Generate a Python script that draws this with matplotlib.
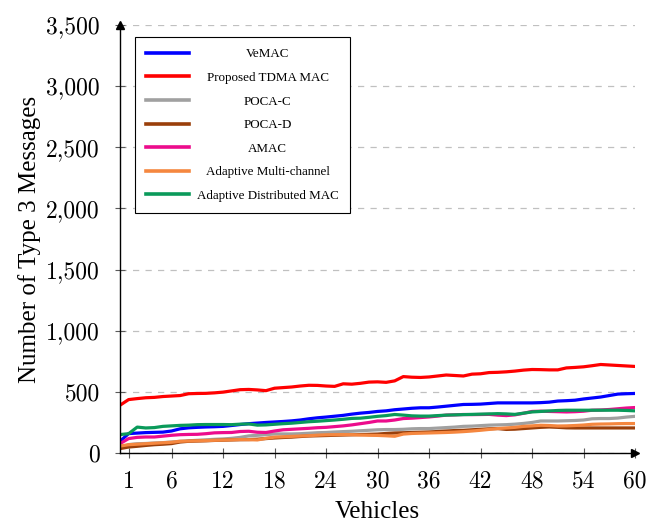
import matplotlib
matplotlib.use("Agg")
import matplotlib.pyplot as plt
from matplotlib.ticker import FuncFormatter
from matplotlib.transforms import Affine2D

# number of vehicles (0..60)
vehicles = list(range(0, 61))

vemac = [96, 159, 163, 167, 169, 171, 180, 198, 206, 210, 213, 215, 218, 225, 233, 240,
         245, 250, 254, 258, 263, 270, 280, 288, 294, 301, 308, 318, 326, 332, 340, 345,
         354, 360, 366, 370, 370, 376, 383, 390, 397, 398, 400, 405, 410, 410, 410, 410,
         410, 412, 416, 425, 428, 432, 442, 450, 458, 470, 482, 485, 487]
proposed = [391, 437, 445, 452, 455, 462, 466, 470, 485, 487, 488, 492, 498, 508, 518, 520,
            516, 510, 530, 535, 540, 548, 554, 553, 548, 545, 566, 563, 570, 580, 582, 578,
            590, 625, 620, 618, 622, 630, 638, 634, 630, 645, 648, 658, 660, 664, 670, 678,
            683, 682, 680, 680, 696, 700, 705, 714, 724, 720, 716, 712, 708]
poca_c = [41, 69, 76, 78, 82, 85, 90, 96, 100, 104, 108, 112, 115, 120, 128, 140,
          145, 150, 156, 156, 156, 158, 162, 166, 168, 172, 175, 178, 182, 186, 190, 192,
          192, 194, 198, 200, 200, 204, 208, 212, 218, 220, 224, 228, 230, 232, 236, 242,
          250, 262, 262, 262, 264, 266, 270, 280, 282, 282, 286, 294, 300]
poca_d = [36, 49, 55, 62, 68, 72, 77, 90, 96, 98, 100, 103, 105, 107, 109, 110,
          113, 118, 123, 127, 130, 135, 139, 141, 143, 145, 147, 149, 151, 153, 155, 160,
          164, 166, 168, 170, 172, 176, 180, 184, 186, 190, 194, 198, 200, 193, 195, 200,
          205, 210, 213, 210, 206, 205, 205, 205, 205, 205, 205, 205, 205]
amac = [77, 118, 128, 131, 131, 138, 145, 150, 152, 153, 158, 165, 167, 168, 176, 178,
        170, 168, 180, 190, 194, 198, 202, 207, 210, 216, 222, 230, 240, 250, 262, 262,
        270, 282, 285, 290, 295, 302, 310, 312, 315, 314, 315, 316, 310, 306, 312, 325,
        340, 342, 340, 338, 336, 338, 342, 350, 352, 356, 362, 368, 372]
adaptive_mc = [57, 68, 72, 76, 80, 84, 88, 96, 98, 100, 102, 104, 106, 108, 110, 109,
               107, 120, 130, 133, 136, 139, 142, 146, 149, 150, 151, 150, 147, 145, 144, 141,
               137, 155, 160, 162, 164, 166, 168, 171, 175, 180, 186, 193, 200, 205, 210, 218,
               222, 227, 225, 221, 222, 225, 229, 235, 237, 238, 240, 241, 241]
adaptive_dist = [151, 158, 212, 205, 208, 218, 222, 226, 228, 232, 233, 233, 233, 232, 236, 238,
                 228, 230, 235, 240, 244, 250, 256, 260, 265, 270, 276, 283, 285, 292, 300, 306,
                 315, 310, 304, 302, 302, 306, 310, 312, 314, 316, 318, 320, 322, 320, 316, 326,
                 336, 340, 344, 348, 350, 350, 350, 350, 350, 350, 350, 348, 345]

labels = ['VeMAC', 'Proposed TDMA MAC', 'POCA-C', 'POCA-D', 'AMAC',
          'Adaptive Multi-channel', 'Adaptive Distributed MAC']
colors = ['#0000ff', '#ff0000', '#a0a0a0', '#9a3f0a', '#ec0c8c', '#f5873f', '#0a9a5a']
series = [vemac, proposed, poca_c, poca_d, amac, adaptive_mc, adaptive_dist]

xticks = [1, 6, 12, 18, 24, 30, 36, 42, 48, 54, 60]
yticks = [0, 500, 1000, 1500, 2000, 2500, 3000, 3500]

fig = plt.figure(figsize=(6.62, 5.25), dpi=100)
ax = fig.add_axes([0.1813, 0.1371, 0.778, 0.8152])

for ys, c, lab in zip(series, colors, labels):
    ax.plot(vehicles, ys, color=c, linewidth=2.3, label=lab)

ax.set_xlim(0, 60)
ax.set_ylim(0, 3500)
ax.set_xticks(xticks)
ax.set_yticks(yticks)
ax.yaxis.set_major_formatter(FuncFormatter(lambda v, p: '{:,}'.format(int(v))))

for lbl in ax.get_xticklabels() + ax.get_yticklabels():
    lbl.set_fontfamily('cmr10')
    lbl.set_fontsize(17)
ax.tick_params(direction='inout', length=7, width=0.8, color='0.35')
ax.tick_params(axis='x', pad=9)
ax.tick_params(axis='y', pad=11)

ax.grid(axis='y', linestyle=(0, (5, 5)), color='#c0c0c0', linewidth=0.9)
ax.set_axisbelow(True)

ax.spines['top'].set_visible(False)
ax.spines['right'].set_visible(False)
ax.spines['left'].set_linewidth(1.0)
ax.spines['bottom'].set_linewidth(1.0)
# arrow heads on the axis ends
ax.plot(1, 0, marker='>', color='k', markersize=6, transform=ax.transAxes, clip_on=False)
ax.plot(0, 1, marker='^', color='k', markersize=6, transform=ax.transAxes, clip_on=False)

ax.set_xlabel('Vehicles', fontfamily='Liberation Serif', fontsize=18, labelpad=6)
ax.set_ylabel('Number of Type 3 Messages', fontfamily='Liberation Serif', fontsize=18, labelpad=4)

leg = ax.legend(loc='upper left', bbox_to_anchor=(0.029, 0.972), borderaxespad=0,
                prop={'family': 'Liberation Serif', 'size': 9.4}, frameon=True,
                fancybox=False, edgecolor='black', framealpha=1, handlelength=3.3,
                labelspacing=0.88, handletextpad=0.6, borderpad=0.85)
leg.get_frame().set_linewidth(0.8)
for h in leg.get_lines():
    h.set_linewidth(2.6)

# center the legend labels in their column
fig.canvas.draw()
renderer = fig.canvas.get_renderer()
texts = leg.get_texts()
widths = [t.get_window_extent(renderer).width for t in texts]
wmax = max(widths)
for t, w in zip(texts, widths):
    t.set_transform(t.get_transform() + Affine2D().translate((wmax - w) / 2, 0))

fig.savefig('out.png', dpi=100)
